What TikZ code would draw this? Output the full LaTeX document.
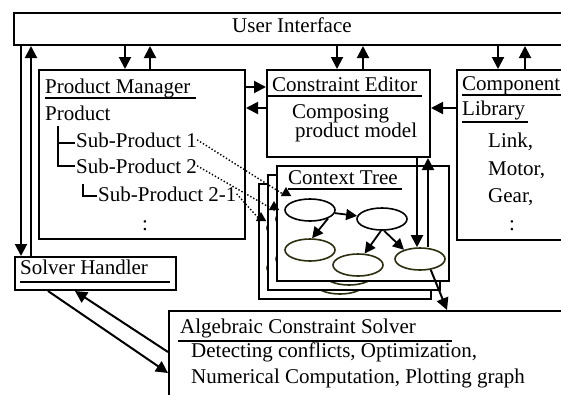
\documentclass[tikz,border=0pt]{standalone}
\usepackage{fontspec}
\setmainfont{Liberation Serif}
\usetikzlibrary{arrows.meta,shapes.geometric}
\definecolor{olivedark}{RGB}{45,45,15}
\tikzset{
  box/.style={draw, line width=2pt, rectangle, inner sep=0pt, anchor=north west},
  layer/.style={box, fill=white, minimum width=172pt, minimum height=115pt},
  txt/.style={inner sep=0pt, anchor=base west, font=\fontsize{21}{24}\selectfont},
  uline/.style={line width=2pt},
  arr/.style={line width=2pt, -{Triangle[length=12pt,width=12pt]}},
  treearr/.style={line width=1.8pt, -{Triangle[length=11pt,width=11pt]}},
  dotlink/.style={line width=1.4pt, dotted, -{Triangle[length=9pt,width=10pt]}},
  oval/.style={draw, ellipse, line width=1.6pt, minimum width=50pt, minimum height=22pt, inner sep=0pt},
}
\begin{document}
\begin{tikzpicture}[x=1pt,y=-1pt]
	%%%%% START %%%%%
	\useasboundingbox (0,0) rectangle (561,394);
	\clip (0,0) rectangle (561,394);
	
	% main blocks
	\node[box, minimum width=580pt, minimum height=32pt] (ui) at (13,12) {};
	\node[box, minimum width=206pt, minimum height=169pt] (pm) at (38,69) {};
	\node[box, minimum width=163pt, minimum height=87pt] (ce) at (266,69) {};
	\node[box, minimum width=130pt, minimum height=170pt] (cl) at (456,69) {};
	\node[box, minimum width=161pt, minimum height=33pt] (sh) at (14,256) {};
	\node[box, minimum width=420pt, minimum height=100pt] (acs) at (168,310) {};
	
	\node[txt] (uit) at (232,32) {User Interface};
	
	\node[txt] (pmt) at (45,93) {Product Manager};
	\draw[uline] (45,97.5) -- (196,97.5);
	\node[txt] (prod) at (45,120) {Product};
	\node[txt] (sp1) at (76,147) {Sub-Product 1};
	\node[txt] (sp2) at (76,173) {Sub-Product 2};
	\node[txt] (sp21) at (98,201) {Sub-Product 2-1};
	\node[txt] (pmdots) at (142,230) {:};
	\draw[line width=2pt] (58,126) -- (58,166) -- (75,166);
	\draw[line width=2pt] (58,143) -- (75,143);
	\draw[line width=2pt] (83,184) -- (83,196) -- (97,196);
	
	\node[txt] (cet) at (272,91) {Constraint Editor};
	\draw[uline] (266,96) -- (422,96);
	\node[txt] (cetx1) at (292,118) {Composing};
	\node[txt] (cetx2) at (295,137) {product model};
	
	\node[txt] (clt) at (462,90) {Component};
	\draw[uline] (462,95) -- (561,95);
	\node[txt] (cllib) at (462,115) {Library};
	\draw[uline] (462,122) -- (528,122);
	\node[txt] (cl1) at (488,147) {Link,};
	\node[txt] (cl2) at (488,175) {Motor,};
	\node[txt] (cl3) at (488,202) {Gear,};
	\node[txt] (cldots) at (509,230) {:};
	
	\node[txt] (sht) at (20,274) {Solver Handler};
	\draw[uline] (20,282) -- (170,282);
	
	\node[txt] (acst) at (180,333) {Algebraic Constraint Solver};
	\draw[uline] (178,341) -- (452,341);
	\node[txt] (acs1) at (191,357) {Detecting conflicts, Optimization,};
	\node[txt] (acs2) at (191,383) {Numerical Computation, Plotting graph};
	
	% context tree stack
	\foreach \dd/\ly in {18/back, 9/mid, 0/front} {
		\node[layer] (\ly) at (276-\dd,165+\dd) {};
		\node[oval] (\ly1) at ([xshift=34pt,yshift=-45pt]\ly.north west) {};
		\node[oval] (\ly2) at ([xshift=106pt,yshift=-54pt]\ly.north west) {};
		\node[oval, olivedark] (\ly3) at ([xshift=34pt,yshift=-85pt]\ly.north west) {};
		\node[oval, olivedark] (\ly4) at ([xshift=82pt,yshift=-100pt]\ly.north west) {};
		\node[oval, olivedark] (\ly5) at ([xshift=144pt,yshift=-94pt]\ly.north west) {};
	}
	\node[txt] (ctxt) at (288,184) {Context Tree};
	\draw[uline] (288,189) -- (402,189);
	
	\draw[treearr] (front1) -- (front2);
	\draw[treearr] (front1.-25) -- (front3.80);
	\draw[treearr] (front2.-95) -- (front4.60);
	\draw[treearr] (front2.-80) -- (front5.150);
	
	% connectors
	\coordinate (pmin) at ([xshift=87pt]pm.north west);
	\coordinate (pmout) at ([xshift=112pt]pm.north west);
	\coordinate (cein) at ([xshift=71pt]ce.north west);
	\coordinate (ceout) at ([xshift=97pt]ce.north west);
	\coordinate (clin) at ([xshift=42pt]cl.north west);
	\coordinate (clout) at ([xshift=69pt]cl.north west);
	\coordinate (shin) at ([xshift=7pt]sh.north west);
	\coordinate (shout) at ([xshift=17pt]sh.north west);
	\draw[arr] (ui.south -| pmin) -- (pmin);
	\draw[arr] (pmout) -- (ui.south -| pmout);
	\draw[arr] (ui.south -| cein) -- (cein);
	\draw[arr] (ceout) -- (ui.south -| ceout);
	\draw[arr] (ui.south -| clin) -- (clin);
	\draw[arr] (clout) -- (ui.south -| clout);
	\draw[arr] (ui.south -| shin) -- (shin);
	\draw[arr] (shout) -- (ui.south -| shout);
	
	\coordinate (pce) at ([yshift=-18pt]ce.north west);
	\coordinate (cep) at ([yshift=-39pt]pm.north east);
	\draw[arr] (pce -| pm.east) -- (pce);
	\draw[arr] (cep -| ce.west) -- (cep);
	\draw[arr] (cep -| cl.west) -- (cep -| ce.east);
	
	\coordinate (d5) at ([xshift=-3pt]front5.north);
	\coordinate (u5) at ([xshift=8pt]front5.north);
	\draw[arr] (ce.south -| d5) -- (d5);
	\draw[arr] (u5) -- (ce.south -| u5);
	\coordinate (a5) at ([xshift=279pt]acs.north west);
	\draw[arr] (front5.-45) -- (a5);
	
	\draw[arr] ([xshift=34pt]sh.south west) -- ([yshift=-63pt]acs.north west);
	\draw[arr] ([yshift=-42pt]acs.north west) -- ([xshift=61pt]sh.south west);
	
	% links from the product tree
	\coordinate (t1) at ([xshift=10pt,yshift=-22pt]front.north west);
	\coordinate (t2) at ([xshift=7pt,yshift=-27pt]mid.north west);
	\coordinate (t3) at ([xshift=3pt,yshift=-29pt]back.north west);
	\draw[dotlink] (sp1.east) -- ([yshift=-9pt]t1) -- (t1);
	\draw[dotlink] (sp2.east) -- ([yshift=-9pt]t2) -- (t2);
	\draw[dotlink] (sp21.east) -- ([yshift=-9pt]t3) -- (t3);
	
	%%%%% END %%%%%
\end{tikzpicture}
\end{document}
